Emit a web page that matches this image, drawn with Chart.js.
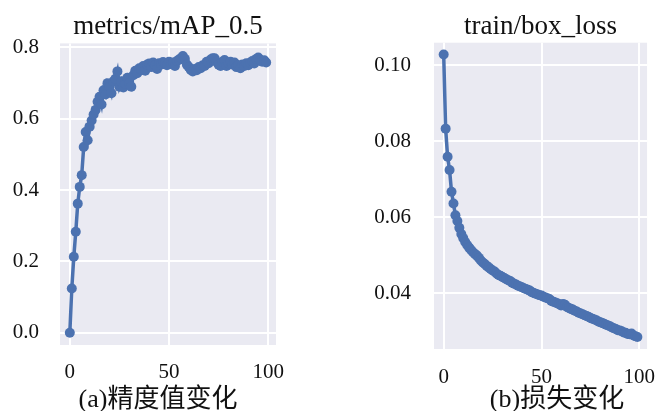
<!DOCTYPE html>
<html><head><meta charset="utf-8">
<script src="https://cdn.jsdelivr.net/npm/chart.js@4.4.1/dist/chart.umd.min.js"></script>
<style>
html,body{margin:0;padding:0;background:#fff;width:672px;height:411px;overflow:hidden;position:relative}
canvas{position:absolute;top:0}
#c1{left:0}
#c2{left:336px}
.cap{position:absolute;font-family:"Liberation Serif","Noto Sans CJK SC",serif;font-size:26px;color:#111;white-space:nowrap;transform:translateX(-50%);line-height:26px}
</style></head>
<body>
<canvas id="c1" width="336" height="411"></canvas>
<canvas id="c2" width="336" height="411"></canvas>
<div class="cap" style="left:158px;top:386px">(a)精度值变化</div>
<div class="cap" style="left:557px;top:386px">(b)损失变化</div>
<script>
// ---- data ----
const epochs = Array.from({length: 100}, (_, i) => i);
const mapTitle = 'metrics/mAP_0.5';
const lossTitle = 'train/box_loss';
const mapValues = [
  0.000, 0.124, 0.213, 0.283, 0.362, 0.409, 0.442, 0.521, 0.563, 0.540,
  0.578, 0.595, 0.612, 0.625, 0.648, 0.662, 0.640, 0.680, 0.668, 0.700,
  0.690, 0.672, 0.705, 0.712, 0.733, 0.690, 0.705, 0.688, 0.698, 0.715,
  0.700, 0.690, 0.722, 0.735, 0.728, 0.742, 0.738, 0.748, 0.735, 0.752,
  0.755, 0.745, 0.758, 0.750, 0.740, 0.756, 0.752, 0.759, 0.755, 0.750,
  0.760, 0.754, 0.758, 0.748, 0.762, 0.766, 0.770, 0.776, 0.768, 0.752,
  0.745, 0.737, 0.733, 0.740, 0.736, 0.745, 0.742, 0.750, 0.748, 0.760,
  0.756, 0.766, 0.770, 0.770, 0.760, 0.752, 0.748, 0.760, 0.765, 0.748,
  0.755, 0.760, 0.752, 0.758, 0.745, 0.750, 0.742, 0.752, 0.748, 0.756,
  0.750, 0.758, 0.762, 0.755, 0.768, 0.772, 0.765, 0.760, 0.764, 0.758
];
const lossValues = [
  0.1028, 0.0833, 0.0759, 0.0724, 0.0667, 0.0636, 0.0605, 0.0590, 0.0572, 0.0556,
  0.0545, 0.0535, 0.0527, 0.0520, 0.0514, 0.0508, 0.0503, 0.0499, 0.0493, 0.0486,
  0.0481, 0.0477, 0.0472, 0.0468, 0.0464, 0.0460, 0.0457, 0.0452, 0.0448, 0.0446,
  0.0443, 0.0440, 0.0437, 0.0434, 0.0432, 0.0428, 0.0425, 0.0423, 0.0420, 0.0418,
  0.0416, 0.0413, 0.0411, 0.0409, 0.0407, 0.0403, 0.0401, 0.0399, 0.0397, 0.0395,
  0.0394, 0.0391, 0.0389, 0.0387, 0.0385, 0.0380, 0.0378, 0.0376, 0.0374, 0.0371,
  0.0368, 0.0372, 0.0370, 0.0364, 0.0361, 0.0359, 0.0357, 0.0354, 0.0352, 0.0349,
  0.0347, 0.0345, 0.0342, 0.0340, 0.0338, 0.0335, 0.0333, 0.0331, 0.0329, 0.0326,
  0.0324, 0.0322, 0.0320, 0.0317, 0.0315, 0.0313, 0.0310, 0.0308, 0.0306, 0.0303,
  0.0302, 0.0300, 0.0297, 0.0296, 0.0293, 0.0292, 0.0294, 0.0289, 0.0287, 0.0285
];
const xTicks = [0, 50, 100];
const mapYTicks = [0.0, 0.2, 0.4, 0.6, 0.8];
const lossYTicks = [0.04, 0.06, 0.08, 0.10];

// ---- styling ----
const SERIF = '"Liberation Serif", "Times New Roman", serif';
const LINE = '#4C72B0';
const TEXT = '#111111';

const bgPlugin = {
  id: 'bg',
  beforeDraw(chart) {
    const {ctx, chartArea: a} = chart;
    ctx.save();
    ctx.fillStyle = '#EAEAF2';
    ctx.fillRect(a.left, a.top, a.right - a.left, a.bottom - a.top);
    ctx.restore();
  }
};

function makeChart(id, o) {
  return new Chart(document.getElementById(id), {
    type: 'line',
    data: {
      labels: epochs,
      datasets: [{
        data: o.values.map((v, i) => ({x: epochs[i], y: v})),
        borderColor: LINE,
        backgroundColor: LINE,
        borderWidth: 3.5,
        pointRadius: 5,
        pointBorderWidth: 0,
        pointBackgroundColor: LINE,
        tension: 0,
        fill: false
      }]
    },
    options: {
      responsive: false,
      animation: false,
      devicePixelRatio: 1,
      layout: {padding: {left: 0, right: o.padRight, top: 0, bottom: 0}},
      plugins: {
        legend: {display: false},
        tooltip: {enabled: false},
        title: {
          display: true,
          text: o.title,
          fullSize: false,
          color: TEXT,
          font: {family: SERIF, size: 27, weight: 'normal', lineHeight: 1.2},
          padding: {top: o.titleTop, bottom: o.titleBottom}
        }
      },
      scales: {
        x: {
          type: 'linear',
          min: -4.95, max: 103.95,
          afterBuildTicks: s => { s.ticks = xTicks.map(v => ({value: v})); },
          afterFit: s => { s.height = o.xHeight; },
          grid: {color: '#ffffff', lineWidth: 2, drawTicks: false},
          border: {display: false},
          ticks: {color: TEXT, padding: o.xPad, font: {family: SERIF, size: 21}, maxRotation: 0,
                  callback: v => String(v)}
        },
        y: {
          type: 'linear',
          min: o.yMin, max: o.yMax,
          afterBuildTicks: s => { s.ticks = o.yTicks.map(v => ({value: v})); },
          afterFit: s => { s.width = o.yWidth; },
          grid: {color: '#ffffff', lineWidth: 2, drawTicks: false},
          border: {display: false},
          ticks: {color: TEXT, padding: o.yPad, font: {family: SERIF, size: 21},
                  callback: v => Number(v).toFixed(o.dec)}
        }
      }
    },
    plugins: [bgPlugin]
  });
}

makeChart('c1', {
  values: mapValues, title: mapTitle, yTicks: mapYTicks, dec: 1,
  yMin: -0.0345, yMax: 0.8115,
  padRight: 60, yWidth: 60, xHeight: 66, xPad: 15, yPad: 21,
  titleTop: 11, titleBottom: 0
});
makeChart('c2', {
  values: lossValues, title: lossTitle, yTicks: lossYTicks, dec: 2,
  yMin: 0.02534, yMax: 0.1059,
  padRight: 10, yWidth: 98, xHeight: 62, xPad: 16, yPad: 23,
  titleTop: 10.3, titleBottom: 0
});
</script>
</body></html>
